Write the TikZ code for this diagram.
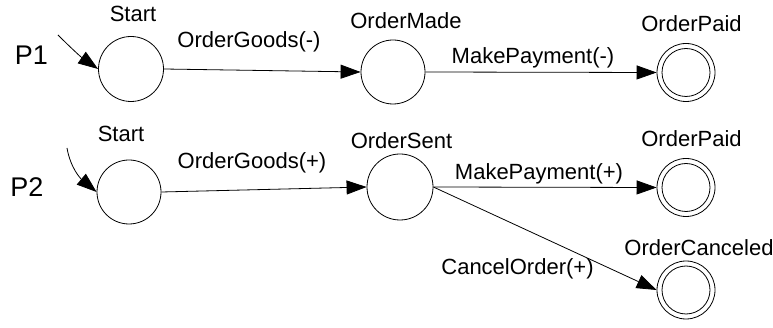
\documentclass[tikz,border=0pt]{standalone}
\usepackage{fontspec}
\setmainfont{Liberation Sans}
\usetikzlibrary{arrows.meta}
\begin{document}
\begin{tikzpicture}[x=1pt,y=-1pt,
  every node/.style={inner sep=0pt},
  txt/.style={font=\fontsize{22}{26}\selectfont, anchor=base},
  ptxt/.style={font=\fontsize{27}{32}\selectfont, anchor=base},
  state/.style={draw, circle, line width=0.8pt, minimum size=#1},
  final/.style={draw, circle, line width=0.8pt, minimum size=58pt,
    path picture={\draw[line width=0.8pt] (path picture bounding box.center) circle[radius=24pt];}},
  conn/.style={line width=0.8pt, -{Triangle[length=20pt,width=14pt]}}
]
\useasboundingbox (0,0) rectangle (773,328);
% P1 row
\node[ptxt] (p1) at (31.5,65) {P1};
\node[state=65pt] (s1) at (131,69) {};
\node[state=64pt] (om) at (393,72) {};
\node[final] (pd1) at (686,72.5) {};
\node[txt] (ls1) at (133,22) {Start};
\node[txt] (lom) at (406,28.3) {OrderMade};
\node[txt] (lpd1) at (691.5,31.7) {OrderPaid};
\node[txt] (t1) at (249,48) {OrderGoods(-)};
\node[txt] (t2) at (533,63.3) {MakePayment(-)};
\coordinate (i1) at (58,35);
\draw[conn] (i1) to[out=-45,in=145] (s1.west);
\draw[conn] (s1.east) -- (om.west);
\draw[conn] (om.east) -- (pd1.west);
% P2 row
\node[ptxt] (p2) at (27,196.7) {P2};
\node[state=64pt] (s2) at (129,192) {};
\node[state=66pt] (os) at (400,187) {};
\node[final] (pd2) at (686,187.5) {};
\node[final] (oc) at (686,290) {};
\node[txt] (ls2) at (121,141.7) {Start};
\node[txt] (los) at (401.5,148.3) {OrderSent};
\node[txt] (lpd2) at (691.5,146.7) {OrderPaid};
\node[txt] (loc) at (699,256) {OrderCanceled};
\node[txt] (t3) at (252,168.3) {OrderGoods(+)};
\node[txt] (t4) at (539,180) {MakePayment(+)};
\node[txt] (t5) at (517.5,275) {CancelOrder(+)};
\coordinate (i2) at (67,148);
\draw[conn] (i2) to[out=-80,in=140] (s2.west);
\draw[conn] (s2.east) -- (os.west);
\draw[conn] (os.east) -- (pd2.west);
\draw[conn] (os.east) -- (oc.west);
\end{tikzpicture}
\end{document}
